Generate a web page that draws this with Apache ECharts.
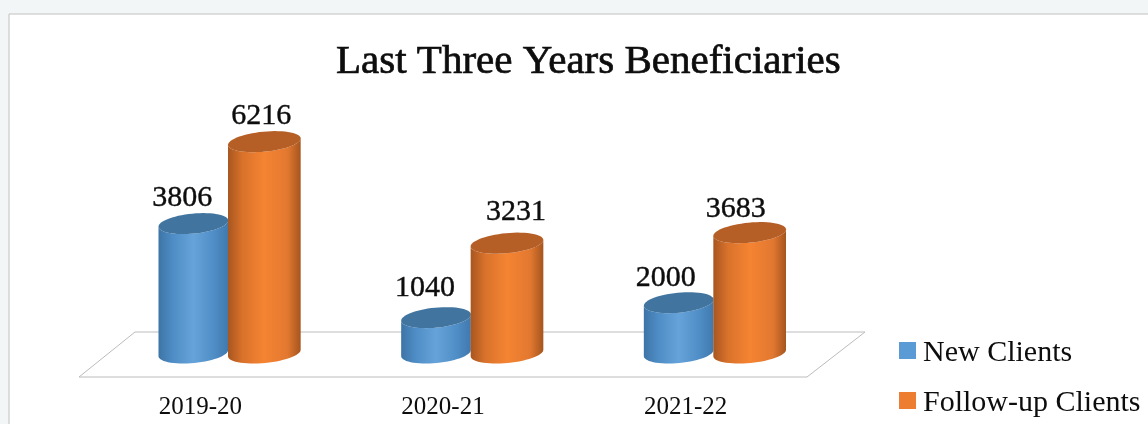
<!DOCTYPE html>
<html>
<head>
<meta charset="utf-8">
<style>
html,body{margin:0;padding:0;background:#f3f6f6;}
#main{width:1148px;height:424px;}
</style>
<script src="https://cdn.jsdelivr.net/npm/echarts@6/dist/echarts.min.js"></script>
</head>
<body>
<div id="main"></div>
<script>
var categories=['2019-20','2020-21','2021-22'];
// printed data labels
var newClientsLabels=[3806,1040,2000];
var followUpLabels=[6216,3231,3683];
// bar heights (the last pair is drawn shorter than its label says)
var newClientsHeights=[3806,1040,1480];
var followUpHeights=[6216,3231,3540];

var serif='"Liberation Serif", serif';
var gridLeft=79,gridWidth=728,gridTop=13,gridBottom=71;

var myChart=echarts.init(document.getElementById('main'),null,{renderer:'canvas'});

//tilted ellipse point, t in radians
function ell(cx,cy,a,b,t){
	var r=-5.5*Math.PI/180;
	var x=a*Math.cos(t),y=b*Math.sin(t);
	return [cx+x*Math.cos(r)-y*Math.sin(r),cy+x*Math.sin(r)+y*Math.cos(r)];
}

function cylinder(dx,halfW,side,top){
	return function(params,api){
		var base=api.coord([api.value(0),0]);
		var head=api.coord([api.value(0),api.value(1)]);
		var cx=base[0]+dx,b=10,i;
		var body=[],cap=[];
		//left edge goes down along the front of the base, back up over the top
		for(i=0;i<=30;i++){body.push(ell(cx,base[1],halfW,b,Math.PI-i/30*Math.PI));}
		for(i=0;i<=30;i++){body.push(ell(cx,head[1],halfW,b,i/30*Math.PI));}
		for(i=0;i<60;i++){cap.push(ell(cx,head[1],halfW,b,i/60*Math.PI*2));}
		return {
			type:'group',
			children:[
				{type:'polygon',shape:{points:body},style:{fill:new echarts.graphic.LinearGradient(0,0,1,0,side)}},
				{type:'polygon',shape:{points:cap},style:{fill:top}}
			]
		};
	};
}

function labelSeries(labels,heights,dx,offs){
	return {
		type:'custom',
		silent:true,
		z:5,
		data:heights.map(function(h,i){return [i,h,labels[i],offs[i][0],offs[i][1]];}),
		encode:{x:0,y:1},
		renderItem:function(params,api){
			var p=api.coord([api.value(0),api.value(1)]);
			return {
				type:'text',
				x:p[0]+dx+api.value(3),
				y:p[1]+api.value(4),
				style:{text:String(api.value(2)),fill:'#0d0d0d',font:'30px '+serif,align:'center',verticalAlign:'middle',stroke:'#0d0d0d',lineWidth:.4}
			};
		}
	};
}

var blueSide=[{offset:0,color:'#3d74a6'},{offset:.2,color:'#4e8cc5'},{offset:.5,color:'#66a3da'},{offset:.8,color:'#4f8dc6'},{offset:1,color:'#4079ad'}];
var orangeSide=[{offset:0,color:'#a85620'},{offset:.2,color:'#d9722b'},{offset:.5,color:'#f58432'},{offset:.82,color:'#e27830'},{offset:1,color:'#a5551e'}];

var option={
	animation:false,
	backgroundColor:'#f3f6f6',
	title:{
		text:'Last Three Years Beneficiaries',
		left:331,top:37,
		textStyle:{fontFamily:serif,fontSize:41,fontWeight:'normal',color:'#0d0d0d',textBorderColor:'#0d0d0d',textBorderWidth:.7}
	},
	legend:{
		orient:'vertical',
		left:894,top:333,
		itemWidth:17,itemHeight:17,itemGap:20,
		icon:'rect',
		formatter:'{t|{name}}',
		textStyle:{
			fontFamily:serif,fontSize:30,color:'#0d0d0d',
			rich:{t:{fontFamily:serif,fontSize:30,color:'#0d0d0d',padding:[5,0,0,2]}}
		},
		data:['New Clients','Follow-up Clients']
	},
	grid:{left:gridLeft,width:gridWidth,top:gridTop,bottom:gridBottom},
	xAxis:{
		type:'category',
		data:categories,
		axisLine:{show:false},
		axisTick:{show:false},
		axisLabel:{margin:42,fontFamily:serif,fontSize:25,color:'#0d0d0d'}
	},
	yAxis:{type:'value',min:0,max:10000,show:false},
	graphic:[
		{type:'rect',z:-10,shape:{x:9,y:14,width:1160,height:430},style:{fill:'#fff',stroke:'#c0c0c0',lineWidth:1}},
		{type:'polygon',z:-9,shape:{points:[[79,377],[135,332],[865,332],[807,377]]},style:{fill:'#fff',stroke:'#bcbcbc',lineWidth:1}}
	],
	series:[
		{
			name:'New Clients',type:'custom',
			itemStyle:{color:'#5b9bd5'},
			data:newClientsHeights.map(function(h,i){return [i,h];}),
			encode:{x:0,y:1},
			renderItem:cylinder(-7,35,blueSide,'#41759f')
		},
		{
			name:'Follow-up Clients',type:'custom',
			itemStyle:{color:'#ed7d31'},
			data:followUpHeights.map(function(h,i){return [i,h];}),
			encode:{x:0,y:1},
			renderItem:cylinder(64,36.5,orangeSide,'#b55f27')
		},
		labelSeries(newClientsLabels,newClientsHeights,-7,[[-11,-25],[-11,-30],[-13,-25]]),
		labelSeries(followUpLabels,followUpHeights,64,[[-3,-26],[9,-31],[-14,-24]])
	]
};
myChart.setOption(option);
</script>
</body>
</html>
